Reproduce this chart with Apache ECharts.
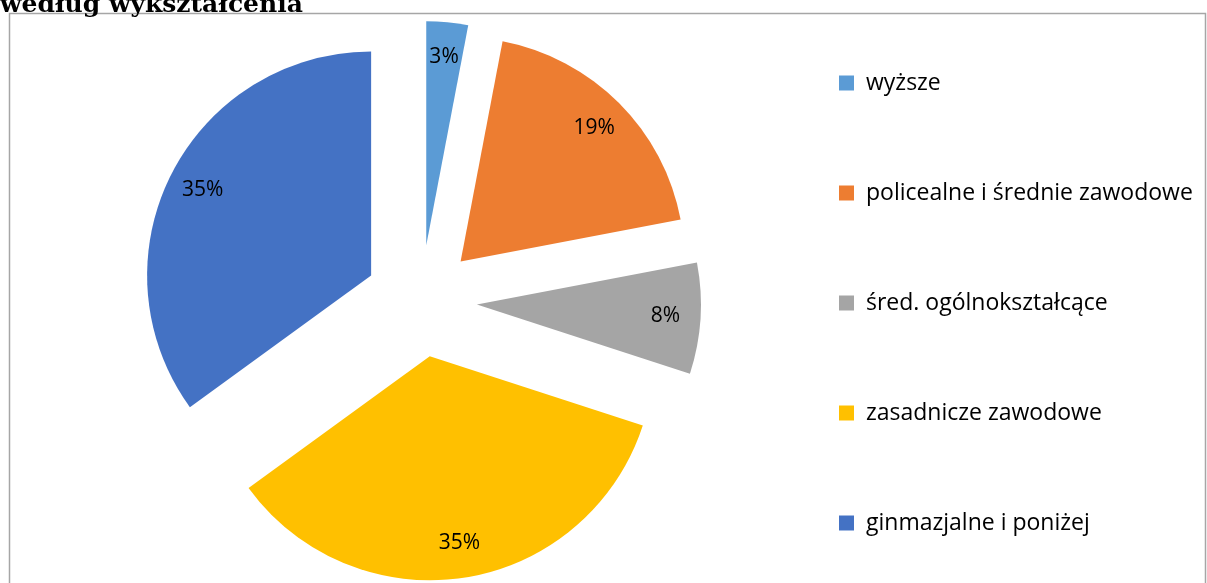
<!DOCTYPE html>
<html>
<head>
<meta charset="utf-8">
<script src="https://cdn.jsdelivr.net/npm/echarts@6/dist/echarts.min.js"></script>
<style>
html,body{margin:0;padding:0;background:#fff;}
#chart{width:1207px;height:583px;}
</style>
</head>
<body>
<div id="chart"></div>
<script>
const titleText = 'według wykształcenia';
const categories = ['wyższe', 'policealne i średnie zawodowe', 'śred. ogólnokształcące', 'zasadnicze zawodowe', 'ginmazjalne i poniżej'];
const values = [3, 19, 8, 35, 35];
const colors = ['#5B9BD5', '#ED7D31', '#A5A5A5', '#FFC000', '#4472C4'];

const chart = echarts.init(document.getElementById('chart'));
const pieData = categories.map((c, i) => ({ name: c, value: values[i], selected: true, itemStyle: { color: colors[i] } }));
const labelData = categories.map((c, i) => ({ name: c, value: values[i], selected: true }));

const fontFam = '"Open Sans", "Noto Sans", sans-serif';

chart.setOption({
  animation: false,
  graphic: [
    { type: 'rect', silent: true, shape: { x: 9.5, y: 13.5, width: 1196, height: 620 },
      style: { fill: 'none', stroke: '#a6a6a6', lineWidth: 1.5 } },
    { type: 'text', silent: true, left: 0, top: -7,
      style: { text: titleText, font: 'bold 25px "DejaVu Serif", serif', fill: '#000' } }
  ],
  legend: {
    orient: 'vertical',
    left: 834,
    top: 66,
    itemWidth: 15,
    itemHeight: 15,
    itemGap: 86,
    icon: 'rect',
    selectedMode: false,
    textStyle: { fontFamily: fontFam, fontSize: 23, color: '#000', lineHeight: 24, padding: [0, 0, 0, 7] },
    data: categories.map((c, i) => ({ name: c, itemStyle: { color: colors[i] } }))
  },
  series: [
    {
      type: 'pie',
      center: [421, 301],
      radius: [0, 224],
      startAngle: 90,
      clockwise: true,
      selectedMode: 'multiple',
      selectedOffset: 56,
      silent: true,
      label: { show: false },
      labelLine: { show: false },
      emphasis: { disabled: true },
      data: pieData
    },
    {
      type: 'pie',
      center: [421, 301],
      radius: [0, 372],
      startAngle: 90,
      clockwise: true,
      selectedMode: 'multiple',
      selectedOffset: 56,
      silent: true,
      minShowLabelAngle: 0,
      avoidLabelOverlap: false,
      itemStyle: { color: 'rgba(0,0,0,0)' },
      label: { show: true, position: 'inside', formatter: '{c}%', fontFamily: fontFam, fontSize: 21, color: '#000' },
      labelLine: { show: false },
      emphasis: { disabled: true },
      data: labelData
    }
  ]
});
</script>
</body>
</html>
